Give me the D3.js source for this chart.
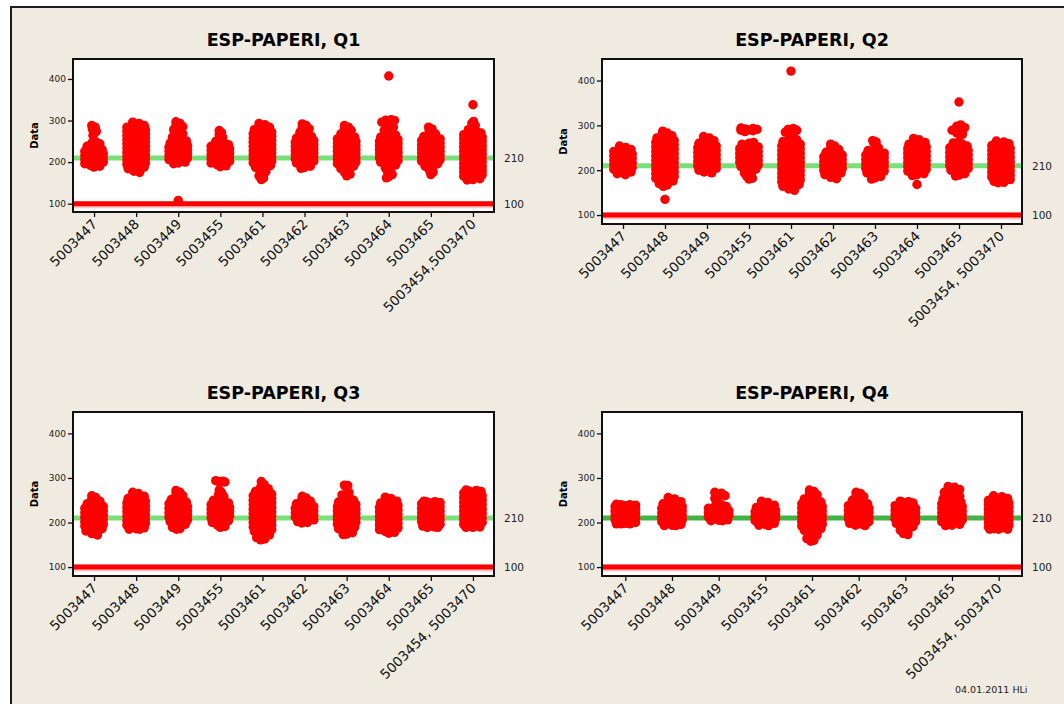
<!DOCTYPE html>
<html><head><meta charset="utf-8">
<script src="https://cdn.jsdelivr.net/npm/d3@7"></script>
<style>
html,body{margin:0;padding:0;background:#fff;}
svg{display:block;}
</style></head>
<body>
<svg id="chart" width="1064" height="704"></svg>
<script>
// ---------- DATA ----------
const titles = ["ESP-PAPERI, Q1", "ESP-PAPERI, Q2", "ESP-PAPERI, Q3", "ESP-PAPERI, Q4"];
const catsQ1 = ["5003447","5003448","5003449","5003455","5003461","5003462","5003463","5003464","5003465","5003454,5003470"];
const catsQ2 = ["5003447","5003448","5003449","5003455","5003461","5003462","5003463","5003464","5003465","5003454, 5003470"];
const catsQ3 = ["5003447","5003448","5003449","5003455","5003461","5003462","5003463","5003464","5003465","5003454, 5003470"];
const catsQ4 = ["5003447","5003448","5003449","5003455","5003461","5003462","5003463","5003465","5003454, 5003470"];
const yTicks = [100, 200, 300, 400];
const targetLine = 210;
const limitLine = 100;
const footer = "04.01.2011 HLi";

const valsQ1 = [
 [288,284,279,274,269,264,249,246,244,241,238,235,232,230,228,226,224,222,220,218,216,214,212,210,208,206,204,202,200,198,196,194,192,190,188],
 [296,293,290,288,286,284,282,280,278,276,274,272,270,268,266,264,262,260,258,256,254,252,250,248,246,244,242,240,238,236,234,232,230,228,226,224,222,220,218,216,214,212,210,208,206,204,202,200,198,196,194,192,190,188,186,184,181,178,175],
 [297,293,289,285,281,278,275,272,268,264,260,257,254,251,248,246,244,242,240,238,236,234,232,230,228,226,224,222,220,218,216,214,212,210,208,206,204,202,200,198,196,108],
 [276,271,266,260,254,250,247,244,242,240,238,236,234,232,230,228,226,224,222,220,218,216,214,212,210,208,206,204,202,200,198,196,194,191,189],
 [293,290,287,284,281,278,276,274,272,270,268,266,264,262,260,258,256,254,252,250,248,246,244,242,240,238,236,234,232,230,228,226,224,222,220,218,216,214,212,210,208,206,204,202,200,198,196,194,192,190,187,184,181,177,172,167,162,158],
 [292,288,284,280,276,272,268,265,262,260,258,256,254,252,250,248,246,244,242,240,238,236,234,232,230,228,226,224,222,220,218,216,214,212,210,208,206,204,202,200,198,196,193,190,187,185],
 [288,284,280,276,272,268,265,262,260,258,256,254,252,250,248,246,244,242,240,238,236,234,232,230,228,226,224,222,220,218,216,214,212,210,208,206,204,202,200,198,196,194,192,190,187,184,180,176,171,167],
 [407,302,301,300,299,296,292,288,284,280,276,272,268,265,262,260,258,256,254,252,250,248,246,244,242,240,238,236,234,232,230,228,226,224,222,220,218,216,214,212,210,208,206,204,202,200,198,196,193,190,186,181,176,170,165,162],
 [284,280,276,268,265,262,260,258,256,254,252,250,248,246,244,242,240,238,236,234,232,230,228,226,224,222,220,218,216,214,212,210,208,206,204,202,200,198,196,193,190,186,181,176,170],
 [338,298,293,288,283,278,274,272,270,268,266,264,262,260,258,256,254,252,250,248,246,244,242,240,238,236,234,232,230,228,226,224,222,220,218,216,214,212,210,208,206,204,202,200,198,196,194,192,190,188,186,184,182,180,178,176,174,172,170,168,166,164,162,160,158,157]
];
const valsQ2 = [
 [254,251,248,246,244,242,240,238,236,234,232,230,228,226,224,222,220,218,216,214,212,210,208,206,204,202,200,198,196,194,192,190],
 [287,283,280,277,274,272,270,268,266,264,262,260,258,256,254,252,250,248,246,244,242,240,238,236,234,232,230,228,226,224,222,220,218,216,214,212,210,208,206,204,202,200,198,196,194,192,190,188,186,184,182,180,178,176,173,170,167,164,135],
 [275,272,269,266,263,260,258,256,254,252,250,248,246,244,242,240,238,236,234,232,230,228,226,224,222,220,218,216,214,212,210,208,206,204,202,200,198,196,194],
 [294,293,292,291,290,289,288,286,262,260,258,256,254,252,250,248,246,244,242,240,238,236,234,232,230,228,226,224,222,220,218,216,214,212,210,208,206,204,202,198,194,190,186,182,180],
 [421,293,291,289,287,285,283,270,268,266,264,262,260,258,256,254,252,250,248,246,244,242,240,238,236,234,232,230,228,226,224,222,220,218,216,214,212,210,208,206,204,202,200,198,196,194,192,190,188,186,184,182,180,178,176,174,172,170,168,166,164,161,158,155],
 [258,254,250,246,243,240,238,236,234,232,230,228,226,224,222,220,218,216,214,212,210,208,206,204,202,200,198,196,194,192,190,187,184,181],
 [266,263,260,250,247,244,242,240,238,236,234,232,230,228,226,224,222,220,218,216,214,212,210,208,206,204,202,200,198,196,194,192,189,186,183,180],
 [271,268,265,262,260,258,256,254,252,250,248,246,244,242,240,238,236,234,232,230,228,226,224,222,220,218,216,214,212,210,208,206,204,202,200,198,196,194,192,190,188,168],
 [352,301,298,295,292,289,286,283,280,264,261,258,256,254,252,250,248,246,244,242,240,238,236,234,232,230,228,226,224,222,220,218,216,214,212,210,208,206,204,202,200,198,195,192,189,187],
 [265,263,261,259,257,255,253,251,249,247,245,243,241,239,237,235,233,231,229,227,225,223,221,219,217,215,213,211,209,207,205,203,201,199,197,195,193,191,189,187,185,183,181,179,177,175,173,172]
];
const valsQ3 = [
 [260,256,252,248,245,242,240,238,236,234,232,230,228,226,224,222,220,218,216,214,212,210,208,206,204,202,200,198,196,194,192,190,188,186,184,181,178,175,172],
 [268,265,262,259,256,254,252,250,248,246,244,242,240,238,236,234,232,230,228,226,224,222,220,218,216,214,212,210,208,206,204,202,200,198,196,194,192,190,188,186,185,185],
 [272,268,264,260,256,252,250,248,246,244,242,240,238,236,234,232,230,228,226,224,222,220,218,216,214,212,210,208,206,204,202,200,198,196,192,189,186,185],
 [294,293,292,291,290,273,268,263,258,254,250,248,246,244,242,240,238,236,234,232,230,228,226,224,222,220,218,216,214,212,210,208,206,204,202,200,197,194,191,189],
 [292,285,280,276,272,270,268,266,264,262,260,258,256,254,252,250,248,246,244,242,240,238,236,234,232,230,228,226,224,222,220,218,216,214,212,210,208,206,204,202,200,198,196,194,192,190,188,186,184,182,180,178,175,172,169,166,163,161],
 [259,255,251,248,245,242,240,238,236,234,232,230,228,226,224,222,220,218,216,214,212,210,208,206,204,202,200,199],
 [284,283,282,268,265,262,258,254,250,248,246,244,242,240,238,236,234,232,230,228,226,224,222,220,218,216,214,212,210,208,206,204,202,200,198,196,194,192,190,188,186,183,180,177,174,173],
 [257,254,251,248,246,244,242,240,238,236,234,232,230,228,226,224,222,220,218,216,214,212,210,208,206,204,202,200,198,196,194,192,190,188,186,184,182,180,178,176],
 [248,247,246,245,244,242,240,238,236,234,232,230,228,226,224,222,220,218,216,214,212,210,208,206,204,202,200,198,196,194,192,190,189,189],
 [273,272,271,270,268,266,264,262,260,258,256,254,252,250,248,246,244,242,240,238,236,234,232,230,228,226,224,222,220,218,216,214,212,210,208,206,204,202,200,198,196,194,192,190,189,189]
];
const valsQ4 = [
 [241,240,240,239,238,236,234,232,230,228,226,224,222,220,218,216,214,212,210,208,206,204,202,200,198,197,197,197],
 [256,253,250,247,244,242,240,238,236,234,232,230,228,226,224,222,220,218,216,214,212,210,208,206,204,202,200,198,196,194,193,193],
 [268,266,263,260,257,254,240,238,236,234,232,230,228,226,224,222,220,218,216,214,212,210,208,206,205,204,204],
 [248,245,242,239,236,234,232,230,228,226,224,222,220,218,216,214,212,210,208,206,204,202,200,198,196,194,193],
 [273,270,266,262,258,253,250,248,246,244,242,240,238,236,234,232,230,228,226,224,222,220,218,216,214,212,210,208,206,204,202,200,198,196,194,192,190,188,186,184,182,179,176,172,168,164,160,158],
 [268,265,262,258,254,250,247,244,242,240,238,236,234,232,230,228,226,224,222,220,218,216,214,212,210,208,206,204,202,200,198,196,194,193],
 [248,247,246,244,240,238,236,234,232,230,228,226,224,222,220,218,216,214,212,210,208,206,204,202,200,198,196,194,191,187,183,179,175,173],
 [281,279,277,274,271,268,265,262,259,256,253,250,248,246,244,242,240,238,236,234,232,230,228,226,224,222,220,218,216,214,212,210,208,206,204,202,200,198,196,194,193],
 [260,258,256,254,252,250,248,246,244,242,240,238,236,234,232,230,228,226,224,222,220,218,216,214,212,210,208,206,204,202,200,198,196,194,192,190,188,186,185,185,185]
];

// ---------- LAYOUT ----------
const panels = [
  {title: titles[0], cats: catsQ1, vals: valsQ1, x0: 73,  x1: 494,  y0: 59,  y1: 212, green: "#78e078"},
  {title: titles[1], cats: catsQ2, vals: valsQ2, x0: 602, x1: 1022, y0: 59,  y1: 224, green: "#78e078"},
  {title: titles[2], cats: catsQ3, vals: valsQ3, x0: 73,  x1: 494,  y0: 412, y1: 576, green: "#78e078"},
  {title: titles[3], cats: catsQ4, vals: valsQ4, x0: 602, x1: 1022, y0: 412, y1: 576, green: "#3fb444"}
];

const FONT = "Tahoma, 'DejaVu Sans', sans-serif";
const jitterCols = [-1, 0.5, -0.5, 1, 0];
const svg = d3.select("#chart");
svg.append("rect").attr("width", 1064).attr("height", 704).attr("fill", "#fff");
svg.append("rect").attr("x", 11).attr("y", 7).attr("width", 1080).attr("height", 720)
   .attr("fill", "#efebe1").attr("stroke", "#1c1c1c").attr("stroke-width", 2);

panels.forEach(p => {
  const g = svg.append("g");
  const x = d3.scalePoint().domain(p.cats).range([p.x0, p.x1]).padding(0.5);
  const y = d3.scaleLinear().domain([80, 448]).range([p.y1, p.y0]);
  const step = x.step();
  const w = step * 0.22;

  g.append("text").attr("x", (p.x0 + p.x1) / 2).attr("y", p.y0 - 13)
   .attr("text-anchor", "middle").attr("font-family", FONT).attr("font-weight", "bold")
   .attr("font-size", 17.5).attr("fill", "#000").text(p.title);

  g.append("rect").attr("x", p.x0).attr("y", p.y0).attr("width", p.x1 - p.x0).attr("height", p.y1 - p.y0)
   .attr("fill", "#fff");

  // reference lines
  g.append("line").attr("x1", p.x0).attr("x2", p.x1).attr("y1", y(targetLine)).attr("y2", y(targetLine))
   .attr("stroke", p.green).attr("stroke-width", 5);
  g.append("line").attr("x1", p.x0).attr("x2", p.x1).attr("y1", y(limitLine) + 1).attr("y2", y(limitLine) + 1)
   .attr("stroke", "#ffc8c8").attr("stroke-width", 7);
  g.append("line").attr("x1", p.x0).attr("x2", p.x1).attr("y1", y(limitLine)).attr("y2", y(limitLine))
   .attr("stroke", "#ff0000").attr("stroke-width", 5);

  // points with deterministic jitter (narrower where values are sparse)
  const pts = [];
  p.vals.forEach((arr, ci) => {
    arr.forEach((v, i) => {
      const near = arr.filter(u => Math.abs(u - v) <= 9).length - 1;
      const factor = Math.min(1, near / 8);
      pts.push({cx: x(p.cats[ci]) + jitterCols[i % jitterCols.length] * w * factor, v});
    });
  });
  g.append("g").selectAll("circle").data(pts).join("circle")
   .attr("cx", d => d.cx).attr("cy", d => y(d.v)).attr("r", 4.7).attr("fill", "#ff0000");

  // frame
  g.append("rect").attr("x", p.x0).attr("y", p.y0).attr("width", p.x1 - p.x0).attr("height", p.y1 - p.y0)
   .attr("fill", "none").attr("stroke", "#111").attr("stroke-width", 2);

  // left axis
  const ya = g.append("g").attr("transform", `translate(${p.x0 - 1},0)`)
   .call(d3.axisLeft(y).tickValues(yTicks).tickSize(4).tickSizeOuter(0));
  ya.select(".domain").remove();
  ya.selectAll("line").attr("stroke", "#111").attr("stroke-width", 1.3);
  ya.selectAll("text").attr("font-family", FONT).attr("font-size", 9).attr("fill", "#222").attr("dx", 1);

  // bottom axis
  const xa = g.append("g").attr("transform", `translate(0,${p.y1 + 1})`)
   .call(d3.axisBottom(x).tickSize(4).tickSizeOuter(0));
  xa.select(".domain").remove();
  xa.selectAll("line").attr("stroke", "#111").attr("stroke-width", 1.3);
  xa.selectAll("text").remove();
  g.append("g").selectAll("text").data(p.cats).join("text")
   .attr("transform", d => `translate(${x(d) + 4},${p.y1 + 13}) rotate(-45)`)
   .attr("text-anchor", "end").attr("font-family", FONT).attr("font-size", 13.5).attr("fill", "#111")
   .text(d => d);

  // y label
  g.append("text").attr("transform", `translate(${p.x0 - 35},${(p.y0 + p.y1) / 2}) rotate(-90)`)
   .attr("text-anchor", "middle").attr("font-family", FONT).attr("font-weight", "bold")
   .attr("font-size", 10).attr("fill", "#000").text("Data");

  // right labels
  [targetLine, limitLine].forEach(v => {
    g.append("text").attr("x", p.x1 + 10).attr("y", y(v) + 4)
     .attr("font-family", FONT).attr("font-size", 10.5).attr("fill", "#222").text(v);
  });
});

svg.append("text").attr("x", 955).attr("y", 693).attr("font-family", FONT).attr("font-size", 9.5)
   .attr("fill", "#222").text(footer);
</script>
</body></html>
